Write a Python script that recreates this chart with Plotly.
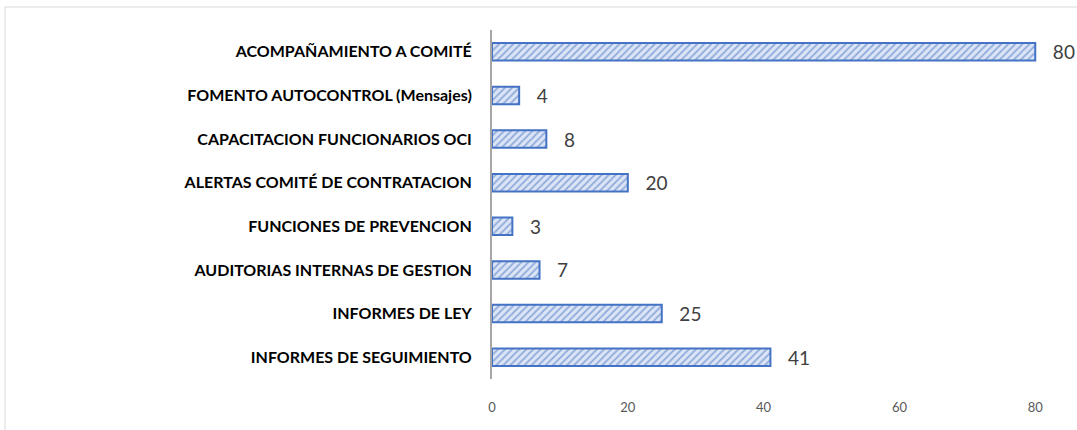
import plotly.graph_objects as go

categories = [
    "INFORMES DE SEGUIMIENTO",
    "INFORMES DE LEY",
    "AUDITORIAS INTERNAS DE GESTION",
    "FUNCIONES DE PREVENCION",
    "ALERTAS COMITÉ DE CONTRATACION",
    "CAPACITACION FUNCIONARIOS OCI",
    "FOMENTO AUTOCONTROL (Mensajes)",
    "ACOMPAÑAMIENTO A COMITÉ",
]
values = [41, 25, 7, 3, 20, 8, 4, 80]
x_ticks = [0, 20, 40, 60, 80]

fig = go.Figure()
fig.add_trace(go.Bar(
    y=categories,
    x=values,
    orientation="h",
    marker=dict(
        color="#DCE5F5",
        line=dict(color="#4472C4", width=2),
        pattern=dict(shape="/", fgcolor="#4472C4", bgcolor="#DCE5F5", size=5, solidity=0.35),
    ),
    text=["   " + str(v) for v in values],
    textposition="outside",
    constraintext="none",
    textfont=dict(size=19, color="#404040", family="Lato"),
    cliponaxis=False,
    showlegend=False,
))

W = 1077
H = 430
ml, mr, mt, mb = 492, 1, 30, 51
pw = W - ml - mr
ph = H - mt - mb

def px_to_paper_x(px):
    return (px - ml) / pw

def px_to_paper_y(py):
    return (H - mb - py) / ph

fig.add_shape(type="rect", xref="paper", yref="paper",
              x0=px_to_paper_x(5), x1=px_to_paper_x(1100),
              y0=px_to_paper_y(460), y1=px_to_paper_y(7),
              line=dict(color="#D9D9D9", width=1), fillcolor="rgba(0,0,0,0)", layer="below")

fig.update_layout(
    width=W, height=H,
    margin=dict(l=ml, r=mr, t=mt, b=mb),
    paper_bgcolor="white", plot_bgcolor="white",
    bargap=0.6,
    font=dict(family="Lato"),
    xaxis=dict(
        range=[0, 86], tickvals=x_ticks, showgrid=False, zeroline=False, showline=False,
        ticks="outside", ticklen=16, tickcolor="rgba(0,0,0,0)",
        tickfont=dict(size=13, color="#595959", family="Lato"),
    ),
    yaxis=dict(
        range=[-0.5, 7.5],
        showgrid=False, zeroline=False, showline=True, linecolor="#A6A6A6", linewidth=2,
        ticks="outside", ticklen=15, tickcolor="rgba(0,0,0,0)",
        tickfont=dict(size=16, color="#000000", family="Lato"),
        categoryorder="array", categoryarray=categories,
    ),
)

fig.update_yaxes(ticktext=["<b>" + c + "</b>" for c in categories], tickvals=categories)

fig.write_html("out.html", config={"displayModeBar": False},
               post_script="document.body.style.margin='0';")
